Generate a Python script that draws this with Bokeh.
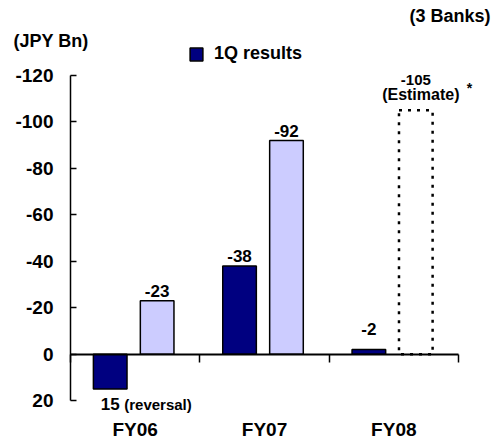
from bokeh.plotting import figure
from bokeh.models import (LinearAxis, FixedTicker, Range1d, Label, Legend, LegendItem)
from bokeh.core.properties import value
from bokeh.embed import file_html
from bokeh.resources import INLINE

# Credit costs per fiscal year (JPY Bn); negative values are costs
fiscal_years = ["FY06", "FY07", "FY08"]
q1_results = [15, -38, -2]          # first-quarter results
full_year_results = [-23, -92]      # full-year results for FY06 and FY07
fy08_estimate = -105                # full-year estimate for FY08
y_ticks = [-120, -100, -80, -60, -40, -20, 0, 20]

FONT = "Liberation Sans"
NAVY = "#000080"
LAVENDER = "#CCCCFF"

n = len(fiscal_years)
q1_x = [i + 0.307 for i in range(n)]
fy_x = [i + 0.67 for i in range(n)]
BAR_W = 0.26

# frame fills the whole canvas; axes are pinned to data positions
p = figure(width=496, height=440,
           x_range=Range1d(-0.5413, 3.294), y_range=Range1d(37.2, -152.3),
           x_axis_type=None, y_axis_type=None,
           output_backend="svg", toolbar_location=None,
           min_border_left=0, min_border_right=0,
           min_border_top=0, min_border_bottom=0)
p.title.visible = False
p.outline_line_color = None
p.background_fill_color = "white"
p.border_fill_color = "white"

# bars
r_q1 = p.vbar(x=q1_x, top=q1_results, bottom=0, width=BAR_W,
              fill_color=NAVY, line_color="black", line_width=1.5)
p.vbar(x=fy_x[:len(full_year_results)], top=full_year_results, bottom=0, width=BAR_W,
       fill_color=LAVENDER, line_color="black", line_width=1.5)
p.vbar(x=[fy_x[n - 1]], top=[fy08_estimate], bottom=0, width=BAR_W,
       fill_color=None, line_color="black", line_width=2.5, line_dash="3 6")

# value axis
yaxis = LinearAxis(fixed_location=0, ticker=FixedTicker(ticks=y_ticks),
                   bounds=(min(y_ticks), max(y_ticks)),
                   major_label_overrides={t: str(t) for t in y_ticks},
                   major_tick_in=6, major_tick_out=0, minor_tick_line_color=None,
                   major_label_standoff=17,
                   major_label_text_font=FONT, major_label_text_font_style="bold",
                   major_label_text_font_size="19px", major_label_text_color="black",
                   axis_line_width=1.5, major_tick_line_width=1.5)
p.add_layout(yaxis, "left")

# zero line with category separators
zero_axis = LinearAxis(fixed_location=0, ticker=FixedTicker(ticks=list(range(n + 1))),
                       bounds=(0, n), major_tick_in=0, major_tick_out=8,
                       minor_tick_line_color=None, major_label_text_color=None,
                       axis_line_width=2, major_tick_line_width=1.5)
p.add_layout(zero_axis, "below")

# fiscal-year labels
cat_axis = LinearAxis(fixed_location=max(y_ticks),
                      ticker=FixedTicker(ticks=[i + 0.5 for i in range(n)]),
                      major_label_overrides={i + 0.5: fy for i, fy in enumerate(fiscal_years)},
                      axis_line_color=None, major_tick_line_color=None,
                      minor_tick_line_color=None, major_tick_in=0, major_tick_out=0,
                      major_label_standoff=18,
                      major_label_text_font=FONT, major_label_text_font_style="bold",
                      major_label_text_font_size="19px", major_label_text_color="black")
p.add_layout(cat_axis, "below")

# value labels above cost bars
lab_x = [fy_x[i] for i in range(len(full_year_results))] + \
        [q1_x[i] for i, v in enumerate(q1_results) if v < 0]
lab_y = full_year_results + [v for v in q1_results if v < 0]
lab_dy = [-4 if abs(v) > 5 else -14 for v in lab_y]
p.text(x=lab_x, y=lab_y, text=[str(v) for v in lab_y], y_offset=lab_dy,
       text_align="center", text_baseline="bottom",
       text_font=value(FONT), text_font_style="bold", text_font_size="17px", text_color="black")

# reversal label below the positive bar
for i, v in enumerate(q1_results):
    if v > 0:
        p.text(x=[q1_x[i]], y=[v], text=[str(v)], y_offset=9,
               text_align="center", text_baseline="top",
               text_font=value(FONT), text_font_style="bold", text_font_size="17px",
               text_color="black")
        p.text(x=[q1_x[i]], y=[v], text=["(reversal)"], x_offset=14, y_offset=7,
               text_align="left", text_baseline="top",
               text_font=value(FONT), text_font_style="bold", text_font_size="15px",
               text_color="black")

# estimate labels
est_x = fy_x[n - 1]
p.text(x=[est_x], y=[fy08_estimate], text=["(Estimate)"], x_offset=5, y_offset=-7,
       text_align="center", text_baseline="bottom",
       text_font=value(FONT), text_font_style="bold", text_font_size="16px", text_color="black")
p.text(x=[est_x], y=[fy08_estimate], text=[str(fy08_estimate)], y_offset=-25,
       text_align="center", text_baseline="bottom",
       text_font=value(FONT), text_font_style="bold", text_font_size="15px", text_color="black")
p.text(x=[est_x], y=[fy08_estimate], text=["*"], x_offset=51, y_offset=-14,
       text_align="left", text_baseline="bottom",
       text_font=value(FONT), text_font_style="bold", text_font_size="14px", text_color="black")

# legend
legend = Legend(items=[LegendItem(label="1Q results", renderers=[r_q1])],
                location=(188, 376), orientation="vertical",
                glyph_width=16, glyph_height=16, label_height=16, label_standoff=10,
                padding=0, margin=0, spacing=0,
                border_line_color=None, background_fill_color=None,
                label_text_font=FONT, label_text_font_style="bold",
                label_text_font_size="18px", label_text_color="black")
p.add_layout(legend)

# unit and scope notes
p.add_layout(Label(x=13, y=400, x_units="screen", y_units="screen", text="(JPY Bn)",
                   text_align="left", text_baseline="middle",
                   text_font=FONT, text_font_style="bold", text_font_size="18px",
                   text_color="black"))
p.add_layout(Label(x=490, y=425, x_units="screen", y_units="screen", text="(3 Banks)",
                   text_align="right", text_baseline="middle",
                   text_font=FONT, text_font_style="bold", text_font_size="18px",
                   text_color="black"))

open("out.html", "w").write(file_html(p, INLINE))
